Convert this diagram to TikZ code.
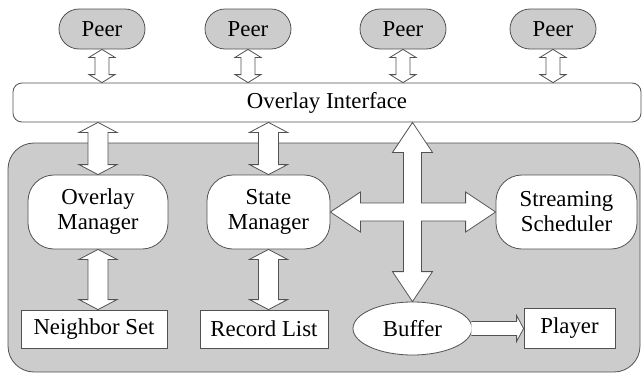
\documentclass[tikz,border=0pt]{standalone}
\usepackage{fontspec}
\setmainfont{Liberation Serif}
\usetikzlibrary{calc,shapes.geometric}

\definecolor{edge}{gray}{0.32}
\definecolor{shade}{gray}{0.80}

\tikzset{
  base/.style={draw=edge, line width=0.8pt, align=center, inner sep=0pt,
    font=\fontsize{22.8}{25}\selectfont},
  peer/.style={base, fill=shade, rounded corners=20pt,
    minimum width=86pt, minimum height=40pt},
  module/.style={base, fill=white, rounded corners=26pt, minimum height=74pt},
  store/.style={base, fill=white, minimum height=38pt},
  blockarrow/.style={draw=edge, fill=white, line width=0.8pt, line join=miter},
}

% vertical two-headed block arrow: #1 upper tip, #2 lower tip,
% #3 half shaft width, #4 half head width, #5 head length (pt)
\newcommand\vbiarrow[5]{%
  \draw[blockarrow] let \p1=#1, \p2=#2 in
    (\x1,\y1) -- (\x1+#4pt,\y1-#5pt) -- (\x1+#3pt,\y1-#5pt)
    -- (\x1+#3pt,\y2+#5pt) -- (\x1+#4pt,\y2+#5pt) -- (\x1,\y2)
    -- (\x1-#4pt,\y2+#5pt) -- (\x1-#3pt,\y2+#5pt)
    -- (\x1-#3pt,\y1-#5pt) -- (\x1-#4pt,\y1-#5pt) -- cycle;}

\begin{document}
\begin{tikzpicture}[x=1pt,y=-1pt]
\useasboundingbox (0,0) rectangle (643,375);

% core system box
\node[draw=edge, line width=0.8pt, fill=shade, rounded corners=26pt,
  minimum width=632pt, minimum height=229pt, inner sep=0pt] (core) at (324,257.5) {};

% remote peers
\node[peer] (p1) at (102,29) {Peer};
\node[peer] (p2) at (248,29) {Peer};
\node[peer] (p3) at (403,29) {Peer};
\node[peer] (p4) at (553,29) {Peer};

% overlay interface bar
\node[base, fill=white, rounded corners=9pt, minimum width=628pt, minimum height=39pt]
  (ovl) at (327,102.5) {Overlay Interface};

% managers
\node[module, minimum width=140pt] (om) at (98,212) {Overlay\\Manager};
\node[module, minimum width=123pt] (sm) at (268.5,212) {State\\Manager};
\node[module, minimum width=141pt] (ss) at (566.5,212) {Streaming\\Scheduler};

% data stores
\node[store, minimum width=146pt] (ns) at (94,329) {Neighbor Set};
\node[store, minimum width=128pt] (rl) at (264,329) {Record List};
\node[base, ellipse, fill=white, minimum width=119pt, minimum height=53pt] (buf) at (412.5,328.5) {Buffer};
\node[store, minimum width=91pt, minimum height=40pt] (pl) at (569.5,328) {Player};

% peer links
\foreach \q in {p1,p2,p3,p4}
  \vbiarrow{(\q.south)}{(\q.south |- ovl.north)}{7}{13}{8};

% interface to managers
\vbiarrow{(om.north |- ovl.south)}{(om.north)}{10}{19}{10};
\vbiarrow{(sm.north |- ovl.south)}{(sm.north)}{10}{19}{10};

% managers to stores
\vbiarrow{(om.south)}{(om.south |- ns.north)}{10}{19}{10};
\vbiarrow{(sm.south)}{(sm.south |- rl.north)}{10}{19}{10};

% four-way arrow around the scheduler link
\draw[blockarrow] let \p1=(buf.north |- ovl.south), \p2=(ss.west),
    \p3=(buf.north), \p4=(sm.east), \p5=(buf.north |- sm.east) in
  (\x5,\y1) -- (\x5+20pt,\y1-30pt) -- (\x5+9pt,\y1-30pt)
  -- (\x5+9pt,\y5+9pt) -- (\x2-30pt,\y5+9pt) -- (\x2-30pt,\y5+20pt)
  -- (\x2,\y5) -- (\x2-30pt,\y5-20pt) -- (\x2-30pt,\y5-9pt)
  -- (\x5+9pt,\y5-9pt) -- (\x5+9pt,\y3+30pt) -- (\x5+20pt,\y3+30pt)
  -- (\x5,\y3) -- (\x5-20pt,\y3+30pt) -- (\x5-9pt,\y3+30pt)
  -- (\x5-9pt,\y5-9pt) -- (\x4+30pt,\y5-9pt) -- (\x4+30pt,\y5-20pt)
  -- (\x4,\y5) -- (\x4+30pt,\y5+20pt) -- (\x4+30pt,\y5+9pt)
  -- (\x5-9pt,\y5+9pt) -- (\x5-9pt,\y1-30pt) -- (\x5-20pt,\y1-30pt) -- cycle;

% buffer feeds the player
\draw[blockarrow] let \p1=(buf.east), \p2=(pl.west) in
  (\x1-1pt,\y1+7pt) -- (\x2-7pt,\y1+7pt) -- (\x2-7pt,\y1+13pt) -- (\x2,\y1)
  -- (\x2-7pt,\y1-13pt) -- (\x2-7pt,\y1-7pt) -- (\x1-1pt,\y1-7pt);
\end{tikzpicture}
\end{document}
